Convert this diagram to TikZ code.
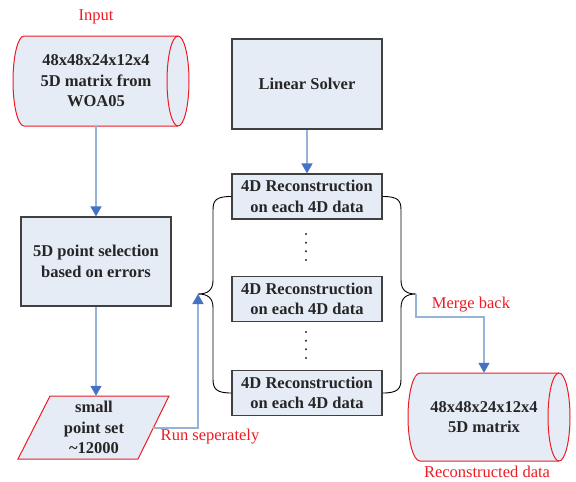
\documentclass[tikz,border=0pt]{standalone}
\usepackage{fontspec}
\setmainfont{Liberation Serif}
\usetikzlibrary{arrows.meta}
\definecolor{boxfill}{RGB}{230,236,246}
\definecolor{boxline}{RGB}{64,64,64}
\definecolor{redline}{RGB}{237,28,36}
\definecolor{arrline}{RGB}{149,179,215}
\definecolor{arrtip}{RGB}{68,114,196}
\definecolor{txt}{RGB}{38,38,38}
\begin{document}
\begin{tikzpicture}[x=1pt,y=-1pt,
 box/.style={draw=boxline, line width=1.2pt, fill=boxfill, minimum width=150pt, align=center, text=txt, font=\fontsize{16.5}{20.5}\selectfont\bfseries, inner sep=0pt},
 txtnode/.style={align=center, text=txt, font=\fontsize{16.5}{20.5}\selectfont\bfseries, inner sep=0pt},
 lbl/.style={text=redline, font=\fontsize{16.5}{20}\selectfont, inner sep=0pt},
 flow/.style={draw=arrline, line width=1.5pt, -{Triangle[length=10pt,width=11pt,color=arrtip]}},
 brace/.style={draw=black, line width=0.9pt},
 redshape/.style={draw=redline, line width=1pt, fill=boxfill}]
\useasboundingbox (0,0) rectangle (576,482);

% input cylinder
\draw[redshape] (24,36) -- (178,36) arc[start angle=-90,end angle=90,x radius=11,y radius=45] -- (24,126) arc[start angle=90,end angle=270,x radius=11,y radius=45] -- cycle;
\draw[redline, line width=1pt] (178,36) arc[start angle=-90,end angle=-270,x radius=11,y radius=45];

% parallelogram
\draw[redshape] (50,396) -- (169,396) -- (138,459) -- (18,459) -- cycle;

% output cylinder
\draw[redshape] (420,373) -- (559,373) arc[start angle=-90,end angle=90,x radius=11,y radius=44] -- (420,461) arc[start angle=90,end angle=270,x radius=12,y radius=44] -- cycle;
\draw[redline, line width=1pt] (559,373) arc[start angle=-90,end angle=-270,x radius=11,y radius=44];

% nodes
\node[txtnode, minimum width=130pt, minimum height=90pt] (input) at (96,81) {48x48x24x12x4\\5D matrix from\\WOA05};
\node[box, minimum height=89pt] (sel) at (96,261.5) {5D point selection\\based on errors};
\node[txtnode, minimum width=100pt, minimum height=63pt] (para) at (94,427.5) {small\\point set\\\textasciitilde12000};
\node[box, minimum height=90pt] (solver) at (307,84) {Linear Solver};
\node[box, minimum height=45pt] (r1) at (307,196.5) {4D Reconstruction\\on each 4D data};
\node[box, minimum height=45pt] (r2) at (307,299) {4D Reconstruction\\on each 4D data};
\node[box, minimum height=45pt] (r3) at (307,393) {4D Reconstruction\\on each 4D data};
\node[txtnode, minimum width=120pt, minimum height=88pt] (output) at (484,417) {48x48x24x12x4\\5D matrix};

% labels
\node[lbl] (inlbl) at (96,17) {Input};
\node[lbl] (runlbl) at (210,437) {Run seperately};
\node[lbl] (mergelbl) at (471,305) {Merge back};
\node[lbl] (reclbl) at (487,472) {Reconstructed data};

% dots
\foreach \yy in {234,242.7,251.3,260,332,340.7,349.3,358}
  \fill[txt] (306,\yy) circle (1.1pt);

% braces
\coordinate (lt) at (198,294);
\coordinate (rt) at (416,294);
\draw[brace] (r1.west) .. controls +(-15,0) and +(0,-10) .. (213,210) -- (213,280) .. controls +(0,10) and +(10,0) .. (lt) .. controls +(10,0) and +(0,-10) .. (213,308) -- (213,379) .. controls +(0,10) and +(-15,0) .. (r3.west);
\draw[brace] (r1.east) .. controls +(15,0) and +(0,-10) .. (401,210) -- (401,280) .. controls +(0,10) and +(-10,0) .. (rt) .. controls +(-10,0) and +(0,-10) .. (401,308) -- (401,379) .. controls +(0,10) and +(15,0) .. (r3.east);

% connectors
\coordinate (pr) at (153,428);
\draw[flow] (input.south) -- (sel.north);
\draw[flow] (sel.south) -- (sel.south |- para.north);
\draw[flow] (solver.south) -- (r1.north);
\draw[flow] (pr) -| (lt);
\draw[flow] (rt) -- ++(0,23) -| (output.north);
\end{tikzpicture}
\end{document}
